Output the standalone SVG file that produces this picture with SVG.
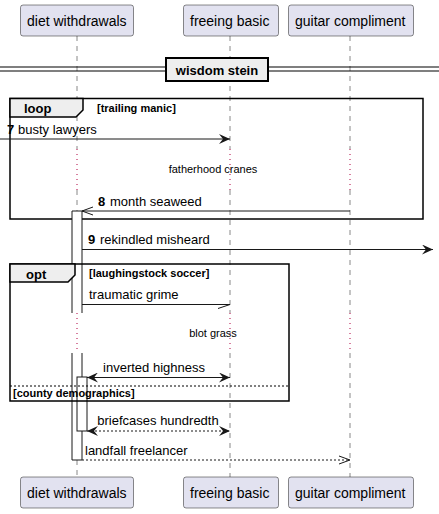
<svg xmlns="http://www.w3.org/2000/svg" width="439" height="514" viewBox="0 0 439 514">
<style>
.p{fill:#E2E2F0;stroke:#181818;stroke-width:0.5}
.pt{font-family:"Liberation Sans",Arial,sans-serif;font-size:14px;fill:#000}
.ll{stroke:#888;stroke-width:1;stroke-dasharray:5,5;fill:none}
.dl{stroke:#B00040;stroke-width:1;stroke-dasharray:1,4;fill:none}
.m{font-family:"Liberation Sans",Arial,sans-serif;font-size:13px;fill:#000}
.mb{font-family:"Liberation Sans",Arial,sans-serif;font-size:13px;font-weight:bold;fill:#000}
.d{font-family:"Liberation Sans",Arial,sans-serif;font-size:11px;fill:#000}
.fb{font-family:"Liberation Sans",Arial,sans-serif;font-size:11px;font-weight:bold;fill:#000}
.ln{stroke:#181818;stroke-width:1;fill:none}
.dash{stroke:#181818;stroke-width:1;stroke-dasharray:2,2;fill:none}
.frame{stroke:#000;stroke-width:1.5;fill:none}
.tab{fill:#EEEEEE;stroke:#000;stroke-width:1.5}
.act{fill:#FFFFFF;stroke:#181818;stroke-width:1}
</style>
<defs>
<marker id="fa" markerWidth="12" markerHeight="10" refX="11" refY="5" orient="auto" markerUnits="userSpaceOnUse"><path d="M0,0 L11,5 L0,10 L4,5 Z" fill="#181818"/></marker>
<marker id="fas" markerWidth="12" markerHeight="10" refX="1" refY="5" orient="auto" markerUnits="userSpaceOnUse"><path d="M12,0 L1,5 L12,10 L8,5 Z" fill="#181818"/></marker>
<marker id="oa" markerWidth="12" markerHeight="10" refX="11" refY="5" orient="auto" markerUnits="userSpaceOnUse"><path d="M0,1 L11,5 L0,9" fill="none" stroke="#181818" stroke-width="1"/></marker>
</defs>

<g id="lifelines">
<path class="ll" d="M77,36 V149 M77,190 V211 M77,460 V477"/>
<path class="dl" d="M77,149 V190 M77,313 V353"/>
<path class="ll" d="M230,36 V149 M230,190 V313 M230,353 V477"/>
<path class="dl" d="M230,149 V190 M230,313 V353"/>
<path class="ll" d="M350,36 V149 M350,190 V313 M350,353 V477"/>
<path class="dl" d="M350,149 V190 M350,313 V353"/>
</g>

<g id="p-diet-top"><rect class="p" x="20.5" y="5" width="113" height="31" rx="2.5"/><text class="pt" x="27" y="25.5">diet withdrawals</text></g>
<g id="p-freeing-top"><rect class="p" x="183.5" y="5" width="95" height="31" rx="2.5"/><text class="pt" x="190" y="25.5">freeing basic</text></g>
<g id="p-guitar-top"><rect class="p" x="288.5" y="5" width="125" height="31" rx="2.5"/><text class="pt" x="295" y="25.5">guitar compliment</text></g>
<g id="p-diet-bot"><rect class="p" x="20.5" y="477" width="113" height="31" rx="2.5"/><text class="pt" x="27" y="497.5">diet withdrawals</text></g>
<g id="p-freeing-bot"><rect class="p" x="183.5" y="477" width="95" height="31" rx="2.5"/><text class="pt" x="190" y="497.5">freeing basic</text></g>
<g id="p-guitar-bot"><rect class="p" x="288.5" y="477" width="125" height="31" rx="2.5"/><text class="pt" x="295" y="497.5">guitar compliment</text></g>

<g id="divider">
<path d="M0,67 H439 M0,71 H439" stroke="#000" stroke-width="1.2" fill="none"/>
<rect x="166" y="58" width="102" height="23" fill="#EEEEEE" stroke="#000" stroke-width="2"/>
<text class="mb" x="217" y="74.5" text-anchor="middle">wisdom stein</text>
</g>

<g id="frame-loop">
<rect class="frame" x="10" y="98.5" width="413" height="120.5"/>
<path class="tab" d="M10,98.5 H83 V110 L76,117 H10 Z"/>
<text class="mb" x="24" y="113">loop</text>
<text class="fb" x="97" y="112">[trailing manic]</text>
</g>

<g id="activations">
<rect x="72" y="211" width="10" height="249" fill="#FFFFFF" stroke="none"/>
<path class="ln" d="M72,313 V211 H82 V313 M72,353 V460 H82 V353"/>
<path class="dl" d="M77,313 V353"/>
<rect class="act" x="77" y="377" width="10" height="54"/>
</g>

<g id="frame-opt">
<rect class="frame" x="10" y="264" width="279" height="137"/>
<path class="tab" d="M10,264 H75 V275 L68,282 H10 Z"/>
<text class="mb" x="26" y="279">opt</text>
<text class="fb" x="89" y="277">[laughingstock soccer]</text>
<path d="M10,386 H289" stroke="#000" stroke-width="1" stroke-dasharray="2,2" fill="none"/>
<text class="fb" x="13" y="397">[county demographics]</text>
</g>

<g id="connectors">
<line class="ln" x1="0" y1="139" x2="230" y2="139" marker-end="url(#fa)"/>
<text class="mb" x="7" y="134">7</text><text class="m" x="18" y="134">busty lawyers</text>

<text class="d" x="213" y="173" text-anchor="middle">fatherhood cranes</text>

<line class="ln" x1="350" y1="211" x2="82" y2="211" marker-end="url(#oa)"/>
<text class="mb" x="98" y="206">8</text><text class="m" x="110" y="206">month seaweed</text>

<line class="ln" x1="82" y1="249.5" x2="433" y2="249.5" marker-end="url(#fa)"/>
<text class="mb" x="88" y="244">9</text><text class="m" x="100" y="244">rekindled misheard</text>

<path class="ln" d="M82,304.5 H230 L218,308.5"/>
<text class="m" x="89" y="299">traumatic grime</text>

<text class="d" x="213" y="337" text-anchor="middle">blot grass</text>

<line class="ln" x1="87" y1="377.5" x2="230" y2="377.5" marker-start="url(#fas)" marker-end="url(#fa)"/>
<text class="m" x="154" y="372" text-anchor="middle">inverted highness</text>

<line class="dash" x1="87" y1="431" x2="230" y2="431" marker-start="url(#fas)" marker-end="url(#fa)"/>
<text class="m" x="158" y="425" text-anchor="middle">briefcases hundredth</text>

<line class="dash" x1="82" y1="460" x2="350" y2="460" marker-end="url(#oa)"/>
<text class="m" x="85" y="455">landfall freelancer</text>
</g>
</svg>
